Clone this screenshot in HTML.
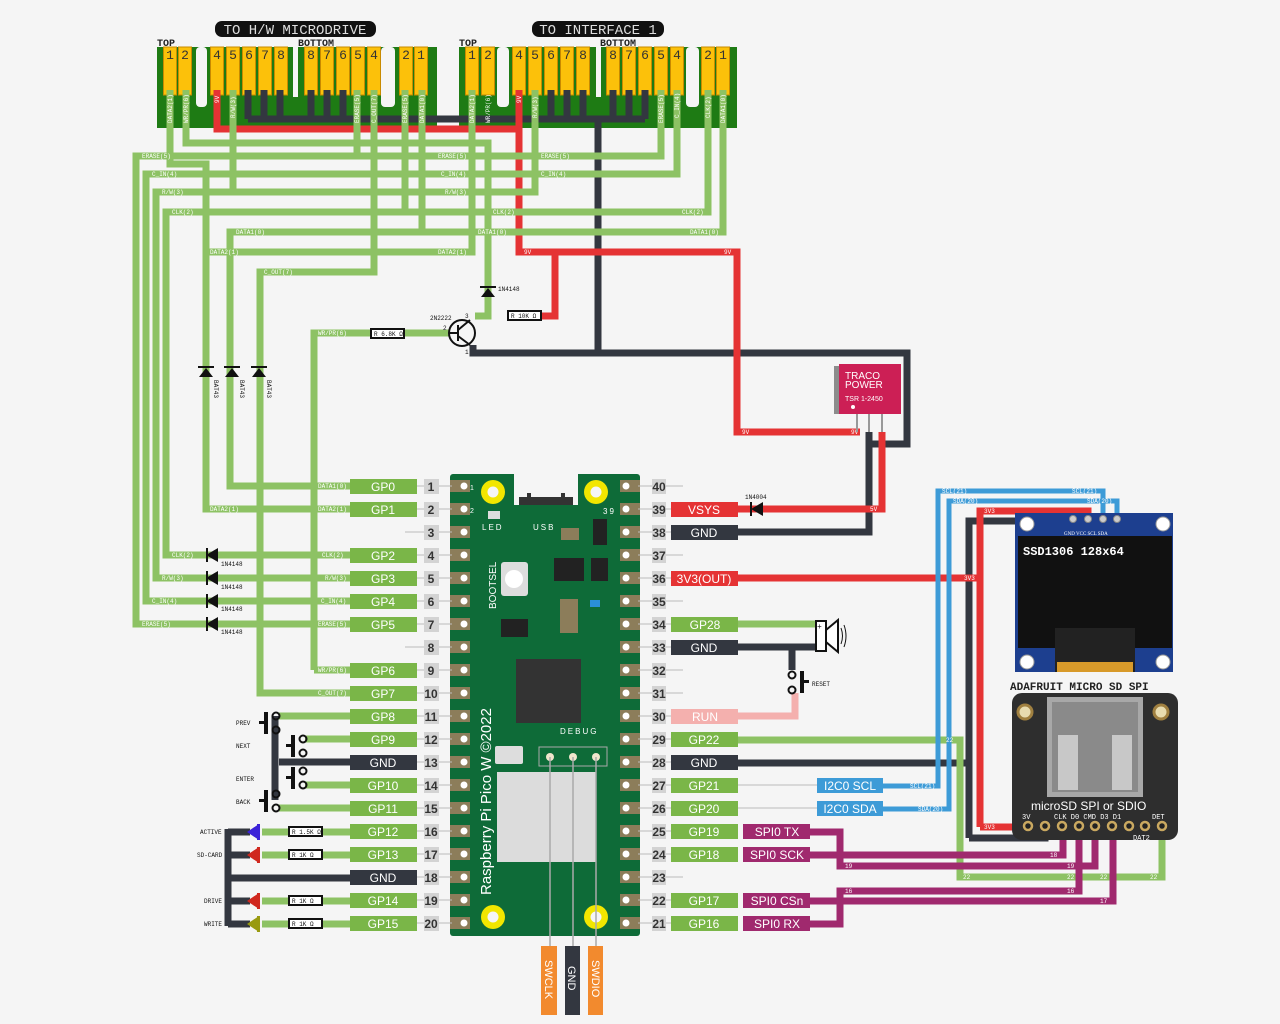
<!DOCTYPE html>
<html><head><meta charset="utf-8"><style>
html,body{margin:0;padding:0;background:#f5f5f5;}
svg{display:block;}
.t{font-family:"Liberation Mono",monospace;font-size:6px;fill:#fff;}
.k{font-family:"Liberation Mono",monospace;font-size:6px;fill:#111;}
.lb{font-family:"Liberation Sans",sans-serif;font-size:12px;fill:#fff;text-anchor:middle;}
.nm{font-family:"Liberation Sans",sans-serif;font-size:12px;font-weight:bold;fill:#333;text-anchor:middle;}
.pn{font-family:"Liberation Sans",sans-serif;font-size:12px;fill:#333;text-anchor:middle;}
</style></head><body>
<svg width="1280" height="1024" viewBox="0 0 1280 1024" xmlns="http://www.w3.org/2000/svg">
<rect width="1280" height="1024" fill="#f5f5f5"/>

<!-- Titles -->
<rect x="215" y="21" width="161" height="16" rx="7" fill="#111"/>
<text x="295" y="34" font-family="Liberation Mono,monospace" font-size="14" fill="#ddd" text-anchor="middle">TO H/W MICRODRIVE</text>
<rect x="532" y="21" width="132" height="16" rx="7" fill="#111"/>
<text x="598" y="34" font-family="Liberation Mono,monospace" font-size="14" fill="#ddd" text-anchor="middle">TO INTERFACE 1</text>
<g font-family="Liberation Mono,monospace" font-size="10" font-weight="bold" fill="#222">
<text x="157" y="46">TOP</text><text x="298" y="46">BOTTOM</text>
<text x="459" y="46">TOP</text><text x="600" y="46">BOTTOM</text>
</g>

<!-- Connectors -->
<rect x="157" y="47" width="280" height="81" fill="#1e7b14"/>
<rect x="459" y="47" width="278" height="81" fill="#1e7b14"/>
<g fill="#f5f5f5">
<rect x="196" y="47" width="11" height="60" rx="4"/><rect x="381" y="47" width="14" height="60" rx="4"/>
<rect x="293" y="47" width="5" height="50"/>
<rect x="497" y="47" width="12" height="60" rx="4"/><rect x="686" y="47" width="13" height="60" rx="4"/>
<rect x="596" y="47" width="5" height="50"/>
</g>
<g fill="#fcc10a" stroke="#c88a00" stroke-width="1">
<rect x="163.5" y="47" width="13" height="48"/><rect x="178.5" y="47" width="13" height="48"/>
<rect x="210.5" y="47" width="13" height="48"/><rect x="226.5" y="47" width="13" height="48"/><rect x="242.5" y="47" width="13" height="48"/><rect x="258.5" y="47" width="13" height="48"/><rect x="274.5" y="47" width="13" height="48"/>
<rect x="304.5" y="47" width="13" height="48"/><rect x="320.5" y="47" width="13" height="48"/><rect x="336.5" y="47" width="13" height="48"/><rect x="351.5" y="47" width="13" height="48"/><rect x="367.5" y="47" width="13" height="48"/>
<rect x="399.5" y="47" width="13" height="48"/><rect x="414.5" y="47" width="13" height="48"/>
<rect x="465.5" y="47" width="13" height="48"/><rect x="481.5" y="47" width="13" height="48"/>
<rect x="512.5" y="47" width="13" height="48"/><rect x="528.5" y="47" width="13" height="48"/><rect x="544.5" y="47" width="13" height="48"/><rect x="560.5" y="47" width="13" height="48"/><rect x="576.5" y="47" width="13" height="48"/>
<rect x="606.5" y="47" width="13" height="48"/><rect x="622.5" y="47" width="13" height="48"/><rect x="638.5" y="47" width="13" height="48"/><rect x="654.5" y="47" width="13" height="48"/><rect x="670.5" y="47" width="13" height="48"/>
<rect x="701.5" y="47" width="13" height="48"/><rect x="716.5" y="47" width="13" height="48"/>
</g>
<g font-family="Liberation Mono,monospace" font-size="13" fill="#333" text-anchor="middle">
<text x="170" y="59">1</text><text x="185" y="59">2</text>
<text x="217" y="59">4</text><text x="233" y="59">5</text><text x="249" y="59">6</text><text x="265" y="59">7</text><text x="281" y="59">8</text>
<text x="311" y="59">8</text><text x="327" y="59">7</text><text x="343" y="59">6</text><text x="358" y="59">5</text><text x="374" y="59">4</text>
<text x="406" y="59">2</text><text x="421" y="59">1</text>
<text x="472" y="59">1</text><text x="488" y="59">2</text>
<text x="519" y="59">4</text><text x="535" y="59">5</text><text x="551" y="59">6</text><text x="567" y="59">7</text><text x="583" y="59">8</text>
<text x="613" y="59">8</text><text x="629" y="59">7</text><text x="645" y="59">6</text><text x="661" y="59">5</text><text x="677" y="59">4</text>
<text x="708" y="59">2</text><text x="723" y="59">1</text>
</g>

<!-- Dark wires -->
<g fill="none" stroke="#333740" stroke-width="7" stroke-linejoin="miter">
<path d="M248 90V119M264 90V119M280 90V119M311 90V119M327 90V119M343 90V119M551 90V119M567 90V119M583 90V119M613 90V119M629 90V119M645 90V119"/>
<path d="M248 119H645"/>
<path d="M598 119V353H907V444H869"/>
<path d="M473 345V353H598"/>
<path d="M869 432V532H738"/>
<path d="M738 647H816M792 647V670"/>
<path d="M738 763H969M969 838V521H1072V518"/>
<path d="M969 838H1045V826"/>
<path d="M275 716V800M279 762H350"/>
<path d="M228 829V926M228 878H350M228 832H250M228 855H250M228 901H250M228 924H250"/>
</g>

<!-- Red wires -->
<g fill="none" stroke="#e53334" stroke-width="7">
<path d="M217 90V129H519M519 90V252H737V432H860"/>
<path d="M555 252V316H541"/>
<path d="M882 432V509H738"/>
<path d="M738 578H980M980 827V511H1088V518M980 827H1027"/>
</g>

<!-- Green wires -->
<g fill="none" stroke="#8dc264" stroke-width="7">
<path d="M170 90V164H206V509H350"/>
<path d="M186 90V143H488V316H475"/>
<path d="M233 90V192"/>
<path d="M357 90V156M374 90V272H260V693H350"/>
<path d="M405 90V212M422 90V232"/>
<path d="M472 90V252H206"/>
<path d="M535 90V192H156V578H350"/>
<path d="M661 90V156H136V624H350"/>
<path d="M677 90V174H146V601H350"/>
<path d="M708 90V212H166V555H350"/>
<path d="M723 90V232H230V486H350"/>
<path d="M314 670V333H370M405 333H450"/>
<path d="M314 670H350"/>
<path d="M279 716H350M305 739H350M305 785H350M279 808H350"/>
<path d="M262 832H350M262 855H350M262 901H350M262 924H350"/>
<path d="M738 624H816"/>
<path d="M738 740H960V877H1162V826"/>
</g>
<!-- Pink RUN -->
<path d="M738 716H795V693" fill="none" stroke="#f4b0ae" stroke-width="7"/>
<!-- Blue -->
<g fill="none" stroke="#3d9bd7" stroke-width="5">
<path d="M883 786H938V491H1103V518"/>
<path d="M883 809H949V501H1117V518"/>
</g>
<!-- Purple -->
<g fill="none" stroke="#a0296e" stroke-width="7">
<path d="M810 832H840V866H1095V826"/>
<path d="M810 855H1063V826"/>
<path d="M810 924H840V891H1079V826"/>
<path d="M810 901H1113V826"/>
</g>

<!-- Wire labels -->
<g class="t">
<text x="142" y="158">ERASE(5)</text><text x="438" y="158">ERASE(5)</text><text x="541" y="158">ERASE(5)</text>
<text x="152" y="176">C_IN(4)</text><text x="441" y="176">C_IN(4)</text><text x="541" y="176">C_IN(4)</text>
<text x="162" y="194">R/W(3)</text><text x="445" y="194">R/W(3)</text>
<text x="172" y="214">CLK(2)</text><text x="493" y="214">CLK(2)</text><text x="682" y="214">CLK(2)</text>
<text x="236" y="234">DATA1(0)</text><text x="478" y="234">DATA1(0)</text><text x="690" y="234">DATA1(0)</text>
<text x="210" y="254">DATA2(1)</text><text x="438" y="254">DATA2(1)</text>
<text x="264" y="274">C_OUT(7)</text>
<text x="318" y="335">WR/PR(6)</text>
<text x="524" y="254">9V</text><text x="724" y="254">9V</text>
<text x="742" y="434">9V</text><text x="851" y="434">9V</text><text x="870" y="511">5V</text>
<text x="318" y="488">DATA1(0)</text><text x="318" y="511">DATA2(1)</text>
<text x="172" y="557">CLK(2)</text><text x="322" y="557">CLK(2)</text>
<text x="162" y="580">R/W(3)</text><text x="325" y="580">R/W(3)</text>
<text x="152" y="603">C_IN(4)</text><text x="321" y="603">C_IN(4)</text>
<text x="142" y="626">ERASE(5)</text><text x="318" y="626">ERASE(5)</text>
<text x="318" y="672">WR/PR(6)</text><text x="318" y="695">C_OUT(7)</text>
<text x="210" y="511">DATA2(1)</text>
<text x="964" y="580">3V3</text><text x="984" y="513">3V3</text><text x="984" y="829">3V3</text>
<text x="942" y="493">SCL(21)</text><text x="1072" y="493">SCL(21)</text>
<text x="953" y="503">SDA(20)</text><text x="1087" y="503">SDA(20)</text>
<text x="910" y="788">SCL(21)</text><text x="918" y="811">SDA(20)</text>
<text x="946" y="742">22</text><text x="963" y="879">22</text><text x="1067" y="879">22</text><text x="1100" y="879">22</text><text x="1150" y="879">22</text>
<text x="1050" y="857">18</text><text x="845" y="868">19</text><text x="1067" y="868">19</text>
<text x="845" y="893">16</text><text x="1067" y="893">16</text><text x="1100" y="903">17</text>
</g>
<!-- vertical labels in connector -->
<g class="t">
<text transform="translate(172,123) rotate(-90)">DATA2(1)</text>
<text transform="translate(188,123) rotate(-90)">WR/PR(6)</text>
<text transform="translate(219,103) rotate(-90)">9V</text>
<text transform="translate(235,118) rotate(-90)">R/W(3)</text>
<text transform="translate(359,123) rotate(-90)">ERASE(5)</text>
<text transform="translate(376,123) rotate(-90)">C_OUT(7)</text>
<text transform="translate(407,123) rotate(-90)">ERASE(5)</text>
<text transform="translate(424,123) rotate(-90)">DATA1(0)</text>
<text transform="translate(474,123) rotate(-90)">DATA2(1)</text>
<text transform="translate(490,123) rotate(-90)">WR/PR(6)</text>
<text transform="translate(521,103) rotate(-90)">9V</text>
<text transform="translate(537,118) rotate(-90)">R/W(3)</text>
<text transform="translate(663,123) rotate(-90)">ERASE(5)</text>
<text transform="translate(679,118) rotate(-90)">C_IN(4)</text>
<text transform="translate(710,118) rotate(-90)">CLK(2)</text>
<text transform="translate(725,123) rotate(-90)">DATA1(0)</text>
</g>

<!-- Diodes BAT43 -->
<g fill="#111">
<path d="M199 377h14l-7-9z M198 366h16v2h-16z"/>
<path d="M225 377h14l-7-9z M224 366h16v2h-16z"/>
<path d="M252 377h14l-7-9z M251 366h16v2h-16z"/>
<path d="M481 297h14l-7-9z M480 286h16v2h-16z"/>
<path d="M206 555l12-7v14z M206 548h2v14h-2z"/>
<path d="M206 578l12-7v14z M206 571h2v14h-2z"/>
<path d="M206 601l12-7v14z M206 594h2v14h-2z"/>
<path d="M206 624l12-7v14z M206 617h2v14h-2z"/>
<path d="M751 509l12-7v14z M750 502h2v14h-2z"/>
</g>
<g class="k">
<text transform="translate(214,380) rotate(90)">BAT43</text>
<text transform="translate(240,380) rotate(90)">BAT43</text>
<text transform="translate(267,380) rotate(90)">BAT43</text>
<text x="498" y="291">1N4148</text><text x="745" y="499">1N4004</text>
<text x="221" y="566">1N4148</text><text x="221" y="589">1N4148</text><text x="221" y="611">1N4148</text><text x="221" y="634">1N4148</text>
<text x="430" y="320">2N2222</text><text x="465" y="318">3</text><text x="443" y="330">2</text><text x="465" y="354">1</text>
<text x="236" y="725">PREV</text><text x="236" y="748">NEXT</text><text x="236" y="781">ENTER</text><text x="236" y="804">BACK</text>
<text x="200" y="834">ACTIVE</text><text x="197" y="857">SD-CARD</text><text x="204" y="903">DRIVE</text><text x="204" y="926">WRITE</text>
<text x="812" y="686">RESET</text>
</g>
<!-- Transistor -->
<circle cx="462" cy="333" r="13" fill="none" stroke="#111" stroke-width="2"/>
<path d="M458 325v16M450 333h8M458 330l12-10M458 336l12 9" stroke="#111" stroke-width="2" fill="none"/>
<!-- Resistors -->
<g fill="#fff" stroke="#111" stroke-width="2">
<rect x="371" y="329" width="33" height="9"/><rect x="508" y="311" width="33" height="9"/>
<rect x="289" y="827" width="33" height="9"/><rect x="289" y="850" width="33" height="9"/>
<rect x="289" y="896" width="33" height="9"/><rect x="289" y="919" width="33" height="9"/>
</g>
<g class="k">
<text x="374" y="336">R 6.8K Ω</text><text x="511" y="318">R 10K Ω</text>
<text x="292" y="834">R 1.5K Ω</text><text x="292" y="857">R  1K Ω</text><text x="292" y="903">R  1K Ω</text><text x="292" y="926">R  1K Ω</text>
</g>
<!-- Buttons -->
<g fill="none" stroke="#111" stroke-width="2">
<circle cx="276" cy="716" r="3.5"/><circle cx="276" cy="730" r="3.5"/>
<circle cx="303" cy="739" r="3.5"/><circle cx="303" cy="753" r="3.5"/>
<circle cx="303" cy="771" r="3.5"/><circle cx="303" cy="785" r="3.5"/>
<circle cx="276" cy="794" r="3.5"/><circle cx="276" cy="808" r="3.5"/>
<circle cx="792" cy="675" r="3.5"/><circle cx="792" cy="690" r="3.5"/>
</g>
<g fill="#111">
<rect x="264" y="712" width="4" height="22"/><rect x="259" y="721" width="6" height="3"/>
<rect x="291" y="735" width="4" height="22"/><rect x="286" y="744" width="6" height="3"/>
<rect x="291" y="767" width="4" height="22"/><rect x="286" y="776" width="6" height="3"/>
<rect x="264" y="790" width="4" height="22"/><rect x="259" y="799" width="6" height="3"/>
<rect x="800" y="671" width="4" height="22"/><rect x="803" y="680" width="6" height="3"/>
</g>
<!-- LEDs -->
<g>
<path d="M247 832l12-8v16z" fill="#3b22d8"/><rect x="257" y="824" width="3" height="16" fill="#3b22d8"/>
<path d="M247 855l12-8v16z" fill="#d0281e"/><rect x="257" y="847" width="3" height="16" fill="#d0281e"/>
<path d="M247 901l12-8v16z" fill="#d0281e"/><rect x="257" y="893" width="3" height="16" fill="#d0281e"/>
<path d="M247 924l12-8v16z" fill="#999a10"/><rect x="257" y="916" width="3" height="16" fill="#999a10"/>
</g>
<!-- Speaker -->
<rect x="816" y="621" width="10" height="30" fill="#fff" stroke="#111" stroke-width="2"/>
<path d="M826 630l12-10v32l-12-10z" fill="#fff" stroke="#111" stroke-width="2"/>
<text x="817" y="629" font-family="Liberation Mono,monospace" font-size="8" fill="#111">+</text>
<path d="M841 628q3 8 0 16M844 625q4 11 0 22" fill="none" stroke="#111" stroke-width="1"/>

<!-- TRACO -->
<rect x="834" y="366" width="6" height="48" fill="#8c8c8c"/>
<rect x="839" y="364" width="62" height="50" fill="#cc1f55"/>
<g font-family="Liberation Sans,sans-serif" fill="#fff">
<text x="845" y="379" font-size="10">TRACO</text><text x="845" y="388" font-size="10">POWER</text>
<text x="845" y="401" font-size="7">TSR 1-2450</text>
</g>
<circle cx="853" cy="407" r="2" fill="#fff"/>
<path d="M857 414v18M869 414v18M882 414v18" stroke="#999" stroke-width="2"/>

<!-- Pico board -->
<rect x="450" y="474" width="190" height="462" rx="3" fill="#0e6b38"/>
<rect x="514" y="463" width="64" height="42" fill="#f5f5f5"/>
<path d="M519 497h8v-4h4v4h30v-4h4v4h8v8h-54z" fill="#333"/>
<g fill="#8c7d5a">
<rect x="450" y="480" width="20" height="12"/><rect x="450" y="503" width="20" height="12"/><rect x="450" y="526" width="20" height="12"/><rect x="450" y="549" width="20" height="12"/><rect x="450" y="572" width="20" height="12"/><rect x="450" y="595" width="20" height="12"/><rect x="450" y="618" width="20" height="12"/><rect x="450" y="641" width="20" height="12"/><rect x="450" y="664" width="20" height="12"/><rect x="450" y="687" width="20" height="12"/><rect x="450" y="710" width="20" height="12"/><rect x="450" y="733" width="20" height="12"/><rect x="450" y="756" width="20" height="12"/><rect x="450" y="779" width="20" height="12"/><rect x="450" y="802" width="20" height="12"/><rect x="450" y="825" width="20" height="12"/><rect x="450" y="848" width="20" height="12"/><rect x="450" y="871" width="20" height="12"/><rect x="450" y="894" width="20" height="12"/><rect x="450" y="917" width="20" height="12"/>
<rect x="620" y="480" width="20" height="12"/><rect x="620" y="503" width="20" height="12"/><rect x="620" y="526" width="20" height="12"/><rect x="620" y="549" width="20" height="12"/><rect x="620" y="572" width="20" height="12"/><rect x="620" y="595" width="20" height="12"/><rect x="620" y="618" width="20" height="12"/><rect x="620" y="641" width="20" height="12"/><rect x="620" y="664" width="20" height="12"/><rect x="620" y="687" width="20" height="12"/><rect x="620" y="710" width="20" height="12"/><rect x="620" y="733" width="20" height="12"/><rect x="620" y="756" width="20" height="12"/><rect x="620" y="779" width="20" height="12"/><rect x="620" y="802" width="20" height="12"/><rect x="620" y="825" width="20" height="12"/><rect x="620" y="848" width="20" height="12"/><rect x="620" y="871" width="20" height="12"/><rect x="620" y="894" width="20" height="12"/><rect x="620" y="917" width="20" height="12"/>
</g>
<g fill="#fff">
<circle cx="464" cy="486" r="3.5"/><circle cx="464" cy="509" r="3.5"/><circle cx="464" cy="532" r="3.5"/><circle cx="464" cy="555" r="3.5"/><circle cx="464" cy="578" r="3.5"/><circle cx="464" cy="601" r="3.5"/><circle cx="464" cy="624" r="3.5"/><circle cx="464" cy="647" r="3.5"/><circle cx="464" cy="670" r="3.5"/><circle cx="464" cy="693" r="3.5"/><circle cx="464" cy="716" r="3.5"/><circle cx="464" cy="739" r="3.5"/><circle cx="464" cy="762" r="3.5"/><circle cx="464" cy="785" r="3.5"/><circle cx="464" cy="808" r="3.5"/><circle cx="464" cy="831" r="3.5"/><circle cx="464" cy="854" r="3.5"/><circle cx="464" cy="877" r="3.5"/><circle cx="464" cy="900" r="3.5"/><circle cx="464" cy="923" r="3.5"/>
<circle cx="626" cy="486" r="3.5"/><circle cx="626" cy="509" r="3.5"/><circle cx="626" cy="532" r="3.5"/><circle cx="626" cy="555" r="3.5"/><circle cx="626" cy="578" r="3.5"/><circle cx="626" cy="601" r="3.5"/><circle cx="626" cy="624" r="3.5"/><circle cx="626" cy="647" r="3.5"/><circle cx="626" cy="670" r="3.5"/><circle cx="626" cy="693" r="3.5"/><circle cx="626" cy="716" r="3.5"/><circle cx="626" cy="739" r="3.5"/><circle cx="626" cy="762" r="3.5"/><circle cx="626" cy="785" r="3.5"/><circle cx="626" cy="808" r="3.5"/><circle cx="626" cy="831" r="3.5"/><circle cx="626" cy="854" r="3.5"/><circle cx="626" cy="877" r="3.5"/><circle cx="626" cy="900" r="3.5"/><circle cx="626" cy="923" r="3.5"/>
</g>
<g fill="#f2e600"><circle cx="493" cy="492" r="12"/><circle cx="596" cy="492" r="12"/><circle cx="493" cy="917" r="12"/><circle cx="596" cy="917" r="12"/></g>
<g fill="#f5f5f5"><circle cx="493" cy="492" r="5.5"/><circle cx="596" cy="492" r="5.5"/><circle cx="493" cy="917" r="5.5"/><circle cx="596" cy="917" r="5.5"/></g>
<rect x="488" y="511" width="12" height="8" fill="#ddd"/>
<rect x="501" y="562" width="27" height="34" rx="3" fill="#ddd"/><circle cx="514" cy="579" r="9" fill="#fff"/>
<rect x="593" y="519" width="14" height="26" fill="#222"/>
<rect x="554" y="558" width="30" height="23" fill="#222"/><rect x="591" y="558" width="17" height="23" fill="#222"/>
<rect x="501" y="619" width="27" height="18" fill="#222"/>
<rect x="560" y="599" width="18" height="34" fill="#8c7d5a"/>
<rect x="590" y="600" width="10" height="7" fill="#2a8fd6"/>
<rect x="516" y="659" width="65" height="64" fill="#333"/>
<rect x="561" y="528" width="18" height="12" fill="#8c7d5a"/>
<rect x="495" y="746" width="28" height="18" rx="2" fill="#ddd"/>
<rect x="497" y="772" width="99" height="90" fill="#dcdcdc"/>
<rect x="539" y="747" width="68" height="19" fill="none" stroke="#aaa" stroke-width="1"/>
<g fill="#f0e6cc"><circle cx="550" cy="757" r="4"/><circle cx="573" cy="757" r="4"/><circle cx="596" cy="757" r="4"/></g>
<g font-family="Liberation Sans,sans-serif" fill="#fff">
<text x="482" y="530" font-size="8" letter-spacing="2">LED</text>
<text x="533" y="530" font-size="8" letter-spacing="2">USB</text>
<text x="603" y="514" font-size="8" letter-spacing="2">39</text>
<text x="470" y="490" font-size="7">1</text><text x="470" y="513" font-size="7">2</text>
<text x="560" y="734" font-size="8" letter-spacing="2">DEBUG</text>
<text transform="translate(496,609) rotate(-90)" font-size="10">BOOTSEL</text>
<text transform="translate(491,895) rotate(-90)" font-size="15">Raspberry Pi Pico W ©2022</text>
</g>
<!-- debug wires -->
<path d="M550 757V947M573 757V947M596 757V947" stroke="#aaa" stroke-width="1.5"/>
<rect x="541" y="946" width="16" height="69" fill="#f28a2e"/>
<rect x="565" y="946" width="15" height="69" fill="#333740"/>
<rect x="588" y="946" width="15" height="69" fill="#f28a2e"/>
<g font-family="Liberation Sans,sans-serif" font-size="11" fill="#fff">
<text transform="translate(545,960) rotate(90)">SWCLK</text>
<text transform="translate(568,966) rotate(90)">GND</text>
<text transform="translate(592,960) rotate(90)">SWDIO</text>
</g>

<!-- pin leader lines -->
<g stroke="#bbb" stroke-width="1">
<path d="M417 486h35M417 509h35M405 532h47M417 555h35M417 578h35M417 601h35M417 624h35M405 647h47M417 670h35M417 693h35M417 716h35M417 739h35M417 762h35M417 785h35M417 808h35M417 831h35M417 854h35M417 877h35M417 900h35M417 923h35"/>
<path d="M638 486h45M638 509h33M638 532h33M638 555h45M638 578h33M638 601h45M638 624h33M638 647h33M638 670h45M638 693h45M638 716h33M638 739h33M638 762h33M638 785h180M638 808h180M638 831h33M638 854h33M638 877h45M638 900h33M638 923h33"/>
</g>
<!-- number boxes -->
<g fill="#d3d3d3">
<rect x="424" y="479" width="15" height="15"/><rect x="424" y="502" width="15" height="15"/><rect x="424" y="525" width="15" height="15"/><rect x="424" y="548" width="15" height="15"/><rect x="424" y="571" width="15" height="15"/><rect x="424" y="594" width="15" height="15"/><rect x="424" y="617" width="15" height="15"/><rect x="424" y="640" width="15" height="15"/><rect x="424" y="663" width="15" height="15"/><rect x="424" y="686" width="15" height="15"/><rect x="424" y="709" width="15" height="15"/><rect x="424" y="732" width="15" height="15"/><rect x="424" y="755" width="15" height="15"/><rect x="424" y="778" width="15" height="15"/><rect x="424" y="801" width="15" height="15"/><rect x="424" y="824" width="15" height="15"/><rect x="424" y="847" width="15" height="15"/><rect x="424" y="870" width="15" height="15"/><rect x="424" y="893" width="15" height="15"/><rect x="424" y="916" width="15" height="15"/>
<rect x="652" y="479" width="14" height="15"/><rect x="652" y="502" width="14" height="15"/><rect x="652" y="525" width="14" height="15"/><rect x="652" y="548" width="14" height="15"/><rect x="652" y="571" width="14" height="15"/><rect x="652" y="594" width="14" height="15"/><rect x="652" y="617" width="14" height="15"/><rect x="652" y="640" width="14" height="15"/><rect x="652" y="663" width="14" height="15"/><rect x="652" y="686" width="14" height="15"/><rect x="652" y="709" width="14" height="15"/><rect x="652" y="732" width="14" height="15"/><rect x="652" y="755" width="14" height="15"/><rect x="652" y="778" width="14" height="15"/><rect x="652" y="801" width="14" height="15"/><rect x="652" y="824" width="14" height="15"/><rect x="652" y="847" width="14" height="15"/><rect x="652" y="870" width="14" height="15"/><rect x="652" y="893" width="14" height="15"/><rect x="652" y="916" width="14" height="15"/>
</g>
<g class="nm">
<text x="431" y="491">1</text><text x="431" y="514">2</text><text x="431" y="537">3</text><text x="431" y="560">4</text><text x="431" y="583">5</text><text x="431" y="606">6</text><text x="431" y="629">7</text><text x="431" y="652">8</text><text x="431" y="675">9</text><text x="431" y="698">10</text><text x="431" y="721">11</text><text x="431" y="744">12</text><text x="431" y="767">13</text><text x="431" y="790">14</text><text x="431" y="813">15</text><text x="431" y="836">16</text><text x="431" y="859">17</text><text x="431" y="882">18</text><text x="431" y="905">19</text><text x="431" y="928">20</text>
<text x="659" y="491">40</text><text x="659" y="514">39</text><text x="659" y="537">38</text><text x="659" y="560">37</text><text x="659" y="583">36</text><text x="659" y="606">35</text><text x="659" y="629">34</text><text x="659" y="652">33</text><text x="659" y="675">32</text><text x="659" y="698">31</text><text x="659" y="721">30</text><text x="659" y="744">29</text><text x="659" y="767">28</text><text x="659" y="790">27</text><text x="659" y="813">26</text><text x="659" y="836">25</text><text x="659" y="859">24</text><text x="659" y="882">23</text><text x="659" y="905">22</text><text x="659" y="928">21</text>
</g>
<!-- left labels -->
<g fill="#7ab648">
<rect x="350" y="479" width="67" height="15"/><rect x="350" y="502" width="67" height="15"/><rect x="350" y="548" width="67" height="15"/><rect x="350" y="571" width="67" height="15"/><rect x="350" y="594" width="67" height="15"/><rect x="350" y="617" width="67" height="15"/><rect x="350" y="663" width="67" height="15"/><rect x="350" y="686" width="67" height="15"/><rect x="350" y="709" width="67" height="15"/><rect x="350" y="732" width="67" height="15"/><rect x="350" y="778" width="67" height="15"/><rect x="350" y="801" width="67" height="15"/><rect x="350" y="824" width="67" height="15"/><rect x="350" y="847" width="67" height="15"/><rect x="350" y="893" width="67" height="15"/><rect x="350" y="916" width="67" height="15"/>
<rect x="671" y="617" width="67" height="15"/><rect x="671" y="732" width="67" height="15"/><rect x="671" y="778" width="67" height="15"/><rect x="671" y="801" width="67" height="15"/><rect x="671" y="824" width="67" height="15"/><rect x="671" y="847" width="67" height="15"/><rect x="671" y="893" width="67" height="15"/><rect x="671" y="916" width="67" height="15"/>
</g>
<g fill="#333740"><rect x="350" y="755" width="67" height="15"/><rect x="350" y="870" width="67" height="15"/><rect x="671" y="525" width="67" height="15"/><rect x="671" y="640" width="67" height="15"/><rect x="671" y="755" width="67" height="15"/></g>
<g fill="#e53334"><rect x="671" y="502" width="67" height="15"/><rect x="671" y="571" width="67" height="15"/></g>
<rect x="671" y="709" width="67" height="15" fill="#f4b0ae"/>
<g fill="#3d9bd7"><rect x="817" y="778" width="66" height="15"/><rect x="817" y="801" width="66" height="15"/></g>
<g fill="#a0296e"><rect x="743" y="824" width="67" height="15"/><rect x="743" y="847" width="67" height="15"/><rect x="743" y="893" width="67" height="15"/><rect x="743" y="916" width="67" height="15"/></g>
<g class="lb">
<text x="383" y="491">GP0</text><text x="383" y="514">GP1</text><text x="383" y="560">GP2</text><text x="383" y="583">GP3</text><text x="383" y="606">GP4</text><text x="383" y="629">GP5</text><text x="383" y="675">GP6</text><text x="383" y="698">GP7</text><text x="383" y="721">GP8</text><text x="383" y="744">GP9</text><text x="383" y="767">GND</text><text x="383" y="790">GP10</text><text x="383" y="813">GP11</text><text x="383" y="836">GP12</text><text x="383" y="859">GP13</text><text x="383" y="882">GND</text><text x="383" y="905">GP14</text><text x="383" y="928">GP15</text>
<text x="704" y="514">VSYS</text><text x="704" y="537">GND</text><text x="704" y="583">3V3(OUT)</text><text x="705" y="629">GP28</text><text x="704" y="652">GND</text><text x="705" y="721">RUN</text><text x="704" y="744">GP22</text><text x="704" y="767">GND</text><text x="704" y="790">GP21</text><text x="704" y="813">GP20</text><text x="704" y="836">GP19</text><text x="704" y="859">GP18</text><text x="704" y="905">GP17</text><text x="704" y="928">GP16</text>
<text x="850" y="790">I2C0 SCL</text><text x="850" y="813">I2C0 SDA</text>
<text x="777" y="836">SPI0 TX</text><text x="777" y="859">SPI0 SCK</text><text x="777" y="905">SPI0 CSn</text><text x="777" y="928">SPI0 RX</text>
</g>

<!-- OLED -->
<rect x="1015" y="513" width="158" height="159" fill="#1d3f8f"/>
<rect x="1018" y="536" width="154" height="112" fill="#111"/>
<rect x="1055" y="628" width="80" height="44" fill="#222"/>
<rect x="1057" y="662" width="76" height="10" fill="#d89a2a"/>
<g fill="#fff" stroke="#999"><circle cx="1027" cy="524" r="7"/><circle cx="1163" cy="524" r="7"/><circle cx="1027" cy="662" r="7"/><circle cx="1163" cy="662" r="7"/></g>
<g fill="#ccc" stroke="#888"><circle cx="1073" cy="519" r="3.5"/><circle cx="1088" cy="519" r="3.5"/><circle cx="1103" cy="519" r="3.5"/><circle cx="1117" cy="519" r="3.5"/></g>
<text x="1064" y="535" font-family="Liberation Serif,serif" font-size="5" fill="#fff">GND VCC SCL SDA</text>
<text x="1023" y="555" font-family="Liberation Mono,monospace" font-size="12" font-weight="bold" fill="#fff">SSD1306 128x64</text>

<!-- SD module -->
<text x="1010" y="690" font-family="Liberation Mono,monospace" font-size="11" font-weight="bold" fill="#222">ADAFRUIT MICRO SD SPI</text>
<rect x="1012" y="693" width="166" height="147" rx="10" fill="#2e2e2e"/>
<rect x="1047" y="697" width="96" height="100" fill="#a8a8a8"/>
<rect x="1052" y="702" width="86" height="90" fill="#8a8a8a"/>
<rect x="1058" y="735" width="20" height="55" fill="#c8c8c8"/><rect x="1112" y="735" width="20" height="55" fill="#c8c8c8"/>
<g fill="#e8dcb0" stroke="#a08040" stroke-width="3"><circle cx="1025" cy="712" r="7"/><circle cx="1161" cy="712" r="7"/></g>
<text x="1031" y="810" font-family="Liberation Sans,sans-serif" font-size="12" fill="#fff">microSD SPI or SDIO</text>
<g font-family="Liberation Mono,monospace" font-size="7" fill="#fff"><text x="1022" y="819">3V</text><text x="1054" y="819">CLK D0 CMD D3 D1</text><text x="1152" y="819">DET</text><text x="1133" y="840">DAT2</text></g>
<g fill="#222" stroke="#c9a860" stroke-width="2.5">
<circle cx="1028" cy="826" r="4"/><circle cx="1045" cy="826" r="4"/><circle cx="1062" cy="826" r="4"/><circle cx="1079" cy="826" r="4"/><circle cx="1095" cy="826" r="4"/><circle cx="1112" cy="826" r="4"/><circle cx="1129" cy="826" r="4"/><circle cx="1145" cy="826" r="4"/><circle cx="1162" cy="826" r="4"/>
</g>
</svg>
</body></html>
